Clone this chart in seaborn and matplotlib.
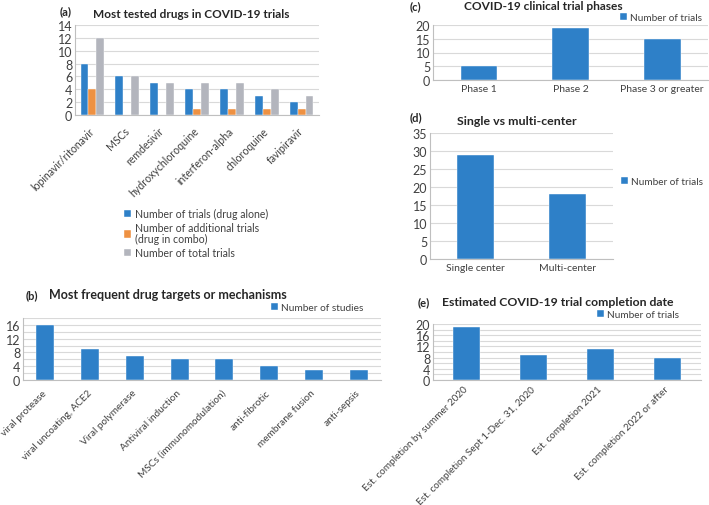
import pandas as pd
import seaborn as sns
from matplotlib import pyplot as plt
from matplotlib.ticker import MultipleLocator

# (a) most tested drugs
drugs = ["lopinavir/ritonavir", "MSCs", "remdesivir", "hydroxychloroquine",
         "interferon-alpha", "chloroquine", "favipiravir"]
drug_alone = [8, 6, 5, 4, 4, 3, 2]
drug_combo = [4, 0, 0, 1, 1, 1, 1]
drug_total = [12, 6, 5, 5, 5, 4, 3]
series_a = ["Number of trials (drug alone)",
            "Number of additional trials\n(drug in combo)",
            "Number of total trials"]

# (b) drug targets / mechanisms
targets = ["viral protease", "viral uncoating, ACE2", "Viral polymerase",
           "Antiviral induction", "MSCs (immunomodulation)", "anti-fibrotic",
           "membrane fusion", "anti-sepsis"]
target_counts = [16, 9, 7, 6, 6, 4, 3, 3]

# (c) trial phases
phases = ["Phase 1", "Phase 2", "Phase 3 or greater"]
phase_counts = [5, 19, 15]

# (d) single vs multi-center
centers = ["Single center", "Multi-center"]
center_counts = [29, 18]

# (e) completion date
completion = ["Est. completion by summer 2020", "Est. completion Sept 1-Dec. 31, 2020",
              "Est. completion 2021", "Est. completion 2022 or after"]
completion_counts = [19, 9, 11, 8]

BLUE = "#2E80C8"
ORANGE = "#EE9142"
GREY = "#B3B5BD"
GRID = "#D9D9D9"
AXIS = "#BFBFBF"
TXT = "#404040"

sns.set_style("white")
plt.rcParams['font.family'] = ['Lato', 'DejaVu Sans']

W, H = 709, 506
fig = plt.figure(figsize=(W / 100, H / 100), dpi=100)


def px_axes(left, top, right, bottom):
    return fig.add_axes([left / W, 1 - bottom / H, (right - left) / W, (bottom - top) / H])


def px_text(x, y, s, **kw):
    fig.text(x / W, 1 - y / H, s, va="center", **kw)


def style_axes(ax, n, ymax, major, minor=None, rot=0, xsize=7.5, ysize=9, pad=3):
    ax.set_xlim(-0.5, n - 0.5)
    ax.set_ylim(0, ymax)
    ax.yaxis.set_major_locator(MultipleLocator(major))
    if minor:
        ax.yaxis.set_minor_locator(MultipleLocator(minor))
        ax.grid(axis="y", which="minor", color=GRID, lw=0.8)
    ax.grid(axis="y", which="major", color=GRID, lw=0.8)
    ax.set_axisbelow(True)
    ax.set_xlabel("")
    ax.set_ylabel("")
    for s in ["top", "right"]:
        ax.spines[s].set_visible(False)
    for s in ["left", "bottom"]:
        ax.spines[s].set_color(AXIS)
        ax.spines[s].set_linewidth(0.8)
    ax.set_xticks([i - 0.5 for i in range(n + 1)], minor=True)
    ax.tick_params(axis="x", which="minor", length=4, color=AXIS, width=0.8)
    ax.tick_params(axis="x", which="major", length=0, labelsize=xsize, pad=pad, colors=TXT)
    ax.tick_params(axis="y", which="both", length=0, labelsize=ysize, pad=2, colors=TXT)
    if rot:
        plt.setp(ax.get_xticklabels(), rotation=rot, ha="right", va="center",
                 rotation_mode="anchor")


def small_legend(ax, x, y, size=7, spacing=0.3):
    handles, labels = ax.get_legend_handles_labels()
    if ax.get_legend():
        ax.get_legend().remove()
    leg = fig.legend(handles, labels, loc="upper left", bbox_to_anchor=(x / W, 1 - y / H),
                     frameon=False, fontsize=size, handlelength=0.7, handleheight=0.7,
                     handletextpad=0.3, borderaxespad=0, borderpad=0, labelspacing=spacing,
                     labelcolor=TXT)
    for t in leg.get_texts():
        t.set_linespacing(1.0)
    return leg


def bars(ax, df, x, palette, width):
    sns.barplot(data=df, x=x, y="value", hue="series", palette=palette, width=width,
                saturation=1, ax=ax, edgecolor="white", linewidth=0.3)


# ---- (a)
df_a = pd.DataFrame({
    "drug": drugs * 3,
    "value": drug_alone + drug_combo + drug_total,
    "series": [series_a[0]] * 7 + [series_a[1]] * 7 + [series_a[2]] * 7,
})
ax_a = px_axes(75, 26, 319, 116)
bars(ax_a, df_a, "drug", [BLUE, ORANGE, GREY], 0.68)
style_axes(ax_a, 7, 14, 2, rot=45, xsize=7.6, pad=10)
small_legend(ax_a, 124, 209, size=7.6, spacing=0.3)
px_text(191, 15, "Most tested drugs in COVID-19 trials", ha="center", fontsize=8.5, fontweight="bold")
px_text(66, 12, "(a)", ha="center", fontsize=8, fontweight="bold")

# ---- (b)
df_b = pd.DataFrame({"target": targets, "value": target_counts, "series": "Number of studies"})
ax_b = px_axes(23, 319, 381, 381)
bars(ax_b, df_b, "target", [BLUE], 0.4)
style_axes(ax_b, 8, 18, 4, minor=2, rot=45, xsize=7.2, pad=8)
small_legend(ax_b, 271, 304, size=7.3)
px_text(168, 295, "Most frequent drug targets or mechanisms", ha="center", fontsize=9, fontweight="bold")
px_text(32, 296, "(b)", ha="center", fontsize=8, fontweight="bold")

# ---- (c)
df_c = pd.DataFrame({"phase": phases, "value": phase_counts, "series": "Number of trials"})
ax_c = px_axes(433, 26, 708, 81)
bars(ax_c, df_c, "phase", [BLUE], 0.4)
style_axes(ax_c, 3, 20, 5, xsize=7.5)
small_legend(ax_c, 620, 14, size=7.2)
px_text(543, 6, "COVID-19 clinical trial phases", ha="center", fontsize=8.6, fontweight="bold")
px_text(415, 7, "(c)", ha="center", fontsize=8, fontweight="bold")

# ---- (d)
df_d = pd.DataFrame({"center": centers, "value": center_counts, "series": "Number of trials"})
ax_d = px_axes(430, 134, 613, 260)
bars(ax_d, df_d, "center", [BLUE], 0.4)
style_axes(ax_d, 2, 35, 5, xsize=7.5)
small_legend(ax_d, 621, 178, size=7.2)
px_text(517, 122, "Single vs multi-center", ha="center", fontsize=8.9, fontweight="bold")
px_text(416, 118, "(d)", ha="center", fontsize=8, fontweight="bold")

# ---- (e)
df_e = pd.DataFrame({"date": completion, "value": completion_counts, "series": "Number of trials"})
ax_e = px_axes(433, 325, 701, 381)
bars(ax_e, df_e, "date", [BLUE], 0.4)
style_axes(ax_e, 4, 20, 4, minor=2, rot=45, xsize=7.1, pad=5.5)
small_legend(ax_e, 597, 311, size=7.2)
px_text(558, 302, "Estimated COVID-19 trial completion date", ha="center", fontsize=8.8, fontweight="bold")
px_text(424, 303, "(e)", ha="center", fontsize=8, fontweight="bold")

fig.savefig("out.png", dpi=100)
